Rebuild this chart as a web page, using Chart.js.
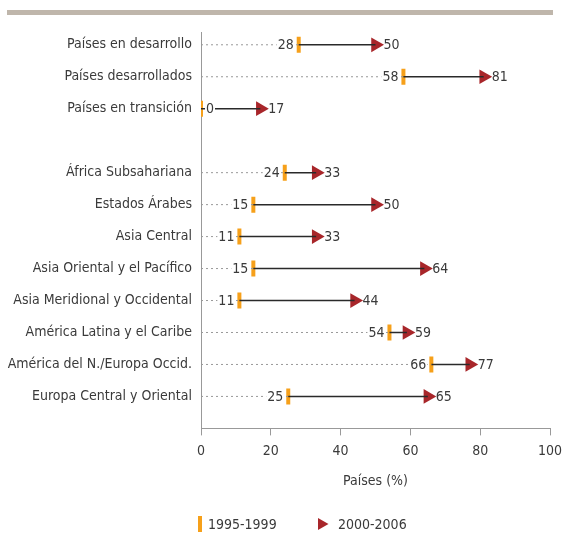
<!DOCTYPE html>
<html>
<head>
<meta charset="utf-8">
<script src="https://cdn.jsdelivr.net/npm/chart.js@4/dist/chart.umd.min.js"></script>
<style>
  body { margin: 0; background: #fff; }
  canvas { display: block; }
</style>
</head>
<body>
<canvas id="chart" width="563" height="535"></canvas>
<script>
// data
var categories = [
  "Países en desarrollo",
  "Países desarrollados",
  "Países en transición",
  "",
  "África Subsahariana",
  "Estados Árabes",
  "Asia Central",
  "Asia Oriental y el Pacífico",
  "Asia Meridional y Occidental",
  "América Latina y el Caribe",
  "América del N./Europa Occid.",
  "Europa Central y Oriental"
];
var values1995 = [28, 58, 0, null, 24, 15, 11, 15, 11, 54, 66, 25];
var values2000 = [50, 81, 17, null, 33, 50, 33, 64, 44, 59, 77, 65];
var xTicks = [0, 20, 40, 60, 80, 100];
var seriesNames = ["1995-1999", "2000-2006"];

var FONT = "'DejaVu Sans Condensed', 'Liberation Sans Narrow', 'Roboto', sans-serif";
var FS = 14;
var ORANGE = "#f6a01a";
var RED = "#a8262a";
var TEXT = "#3a3a3a";

// segments separated by NaN gaps
var dotted = [], solid = [], startPts = [], endPts = [];
categories.forEach(function (c, i) {
  if (values1995[i] == null) return;
  dotted.push({ x: 0, y: i }, { x: values1995[i], y: i }, { x: NaN, y: i });
  solid.push({ x: values1995[i], y: i }, { x: values2000[i], y: i }, { x: NaN, y: i });
  startPts.push({ x: values1995[i], y: i });
  endPts.push({ x: values2000[i], y: i });
});

// top rule, value labels and legend
var labelsPlugin = {
  id: "valueLabels",
  beforeDraw: function (chart) {
    var ctx = chart.ctx;
    ctx.save();
    ctx.fillStyle = "#bfb6ab";
    ctx.fillRect(7, 10, 546, 5);
    ctx.restore();
  },
  afterDatasetsDraw: function (chart) {
    var ctx = chart.ctx;
    var xs = chart.scales.x, ys = chart.scales.y;
    ctx.save();
    ctx.font = FS + "px " + FONT;
    ctx.textBaseline = "middle";
    ctx.textAlign = "left";
    categories.forEach(function (c, i) {
      if (values1995[i] == null) return;
      var y = ys.getPixelForValue(i);
      var x0 = xs.getPixelForValue(values1995[i]);
      var x1 = xs.getPixelForValue(values2000[i]);
      var t0 = String(values1995[i]);
      var w0 = ctx.measureText(t0).width;
      var lx = x0 - 5 - w0;
      if (lx < xs.left + 2) lx = x0 + 5;
      ctx.fillStyle = "#fff";
      ctx.fillRect(lx - 1, y - 8, w0 + 2, 16);
      ctx.fillStyle = TEXT;
      ctx.fillText(t0, lx, y + 1);
      ctx.fillText(String(values2000[i]), x1 + 8, y + 1);
    });

    // legend, using the same point styles as the datasets
    var ly = 524;
    var ds = chart.data.datasets;
    var items = [
      { d: ds[2], px: 200, tx: 208 },
      { d: ds[3], px: 321.5, tx: 338 }
    ];
    items.forEach(function (it) {
      ctx.fillStyle = it.d.backgroundColor;
      ctx.strokeStyle = it.d.borderColor;
      ctx.lineWidth = it.d.borderWidth;
      Chart.helpers.drawPoint(ctx, {
        pointStyle: it.d.pointStyle,
        rotation: it.d.rotation,
        radius: it.d.pointStyle === "line" ? 8 : 7,
        borderWidth: it.d.borderWidth
      }, it.px, ly);
      ctx.fillStyle = TEXT;
      ctx.fillText(it.d.label, it.tx, ly + 1);
    });
    ctx.restore();
  }
};

var config = {
  type: "scatter",
  data: {
    datasets: [{
      label: "dotted",
      data: dotted,
      showLine: true,
      spanGaps: false,
      borderColor: "#999",
      borderWidth: 1,
      borderDash: [2, 3],
      pointRadius: 0
    }, {
      label: "solid",
      data: solid,
      showLine: true,
      spanGaps: false,
      borderColor: "#2a2a2a",
      borderWidth: 1.5,
      pointRadius: 0
    }, {
      label: seriesNames[0],
      data: startPts,
      pointStyle: "line",
      rotation: 90,
      radius: 8,
      borderWidth: 4,
      borderColor: ORANGE,
      backgroundColor: ORANGE
    }, {
      label: seriesNames[1],
      data: endPts,
      pointStyle: "triangle",
      rotation: 90,
      radius: 8.5,
      borderWidth: 0,
      borderColor: RED,
      backgroundColor: RED
    }]
  },
  options: {
    responsive: false,
    animation: false,
    layout: { padding: { top: 32, right: 13, left: 0, bottom: 45 } },
    plugins: {
      tooltip: { enabled: false },
      legend: { display: false }
    },
    scales: {
      x: {
        type: "linear",
        min: 0,
        max: 100,
        afterBuildTicks: function (scale) {
          scale.ticks = xTicks.map(function (v) { return { value: v }; });
        },
        afterFit: function (scale) {
          scale.paddingLeft = 0;
          scale.paddingRight = 0;
        },
        grid: { drawOnChartArea: false, drawTicks: true, tickLength: 7, color: "#999" },
        border: { display: true, color: "#999", width: 1 },
        ticks: { color: TEXT, padding: 8, font: { family: FONT, size: FS } },
        title: {
          display: true,
          text: "Países (%)",
          color: TEXT,
          font: { family: FONT, size: FS },
          padding: { top: 5, bottom: 0 }
        }
      },
      y: {
        type: "linear",
        reverse: true,
        min: -0.4,
        max: 12,
        afterBuildTicks: function (scale) {
          var t = [];
          categories.forEach(function (c, i) { if (c) t.push({ value: i }); });
          scale.ticks = t;
        },
        afterFit: function (scale) { scale.width = 201; },
        grid: { drawOnChartArea: false, drawTicks: false },
        border: { display: true, color: "#999", width: 1 },
        ticks: {
          autoSkip: false,
          padding: 9,
          color: TEXT,
          font: { family: FONT, size: FS },
          callback: function (v) { return categories[v]; }
        }
      }
    }
  },
  plugins: [labelsPlugin]
};

var chart = new Chart(document.getElementById("chart"), config);
</script>
</body>
</html>
